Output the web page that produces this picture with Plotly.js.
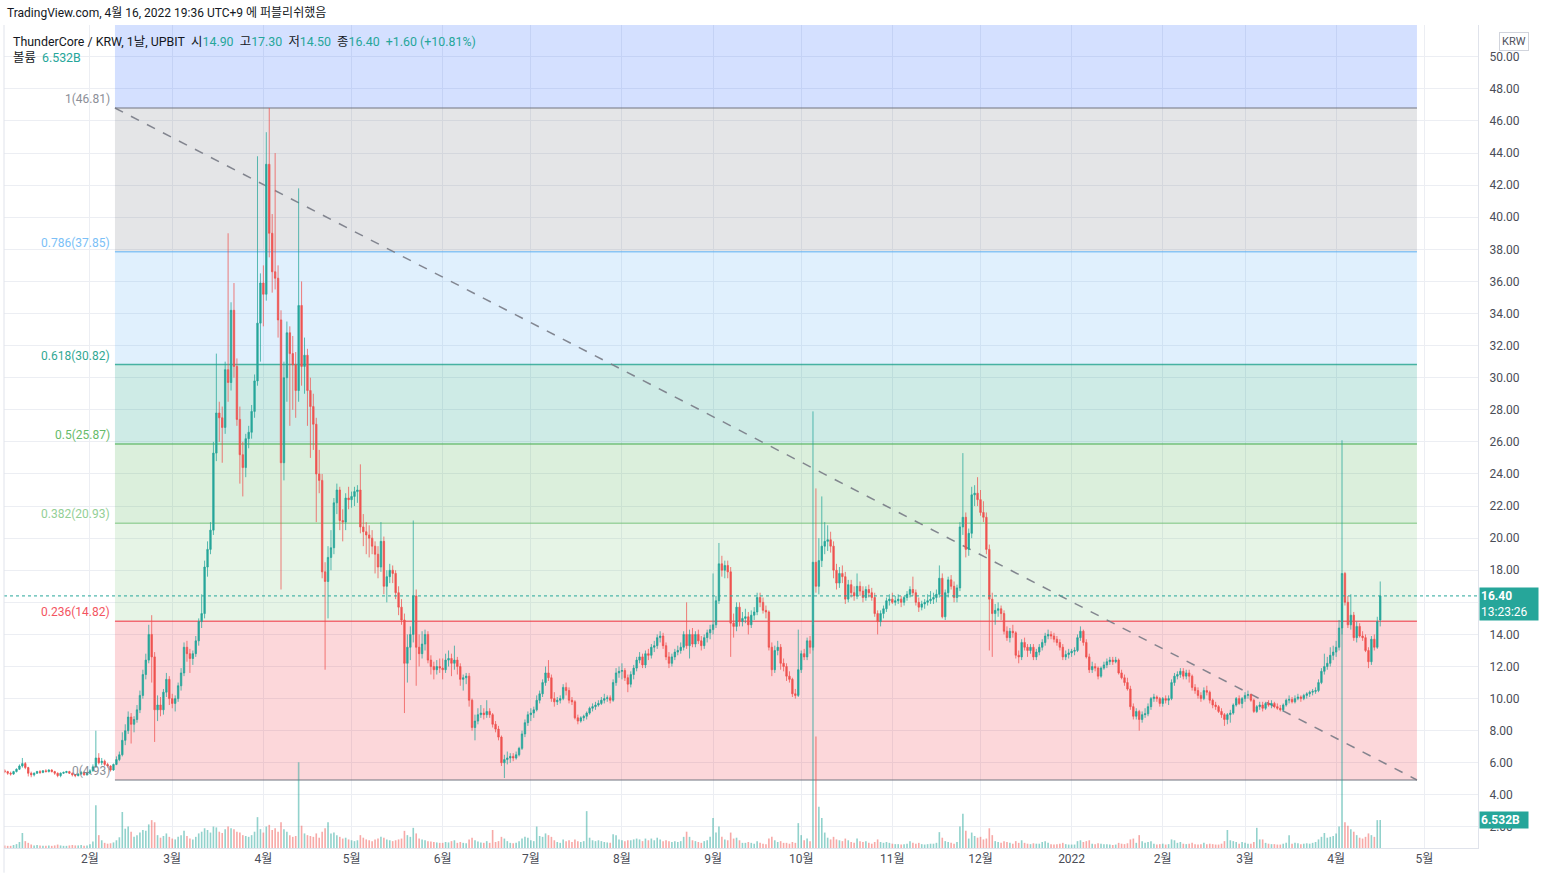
<!DOCTYPE html>
<html>
<head>
<meta charset="utf-8">
<script src="https://cdn.plot.ly/plotly-3.0.1.min.js"></script>
<style>
  html, body { margin: 0; padding: 0; background: #fff; }
  #chart { width: 1542px; height: 873px; }
</style>
</head>
<body>
<div id="chart"></div>
<script>
// ---------------- DATA ----------------
const startDate = '2021-01-03';   // first daily candle shown

const opens = [
// 2021-01 (from Jan 3)
5.50,5.45,5.35,5.30,5.45,5.60,5.80,5.95,5.70,5.35,5.25,5.35,5.45,5.40,5.50,5.45,5.55,5.45,5.35,5.20,5.35,5.40,5.45,5.35,5.25,5.20,5.30,5.40,5.25,
// 2021-02
5.35,5.50,5.75,6.30,6.00,6.10,5.90,5.80,5.55,5.90,6.20,6.50,7.40,8.00,8.85,8.40,8.70,9.30,10.20,11.50,12.40,14.00,12.60,9.30,9.60,9.30,10.40,11.20,
// 2021-03
10.00,9.70,10.00,10.80,11.60,13.20,12.80,12.50,12.80,13.60,14.80,15.30,18.20,19.30,20.50,25.30,27.80,27.50,26.90,30.50,29.70,34.20,30.70,27.40,25.20,24.40,26.20,26.60,27.90,29.80,33.40,
// 2021-04
35.90,35.20,43.30,39.00,36.60,36.20,33.60,24.70,30.00,32.80,31.50,30.80,29.20,34.50,30.70,31.40,29.20,28.20,27.10,24.00,23.60,17.90,17.30,18.80,19.40,22.20,23.00,21.10,21.00,22.50,
// 2021-05
22.40,22.60,22.90,23.00,20.70,20.40,20.20,20.00,19.50,19.00,18.20,19.80,17.00,17.60,18.00,17.80,16.60,15.70,14.90,12.20,13.20,14.00,16.40,13.20,12.80,13.40,14.00,12.40,12.00,11.80,12.00,
// 2021-06
11.90,11.80,12.40,12.50,12.20,12.40,12.00,11.20,11.30,11.40,9.90,8.20,8.60,9.00,9.10,9.00,9.20,9.00,8.40,8.10,7.60,6.00,6.20,6.30,6.40,6.30,6.50,6.90,7.80,8.50,
// 2021-07
9.00,9.10,9.30,9.90,10.30,11.00,11.60,11.30,10.00,9.80,9.90,10.00,10.70,10.50,9.90,9.80,8.80,8.60,8.80,8.90,9.10,9.40,9.50,9.60,9.70,9.90,10.00,10.05,9.90,11.00,11.60,
// 2021-08
11.70,11.75,11.30,10.90,11.50,11.90,12.40,12.60,12.10,12.80,12.70,13.20,13.30,13.80,13.90,13.30,12.60,12.20,12.60,12.90,13.00,13.20,14.00,13.30,14.00,13.40,14.00,13.60,13.30,13.80,14.10,
// 2021-09
14.30,14.60,16.10,18.40,18.00,18.30,17.90,14.70,14.50,15.70,14.80,15.00,15.10,14.60,15.20,15.40,16.30,16.00,15.50,15.40,13.20,11.80,13.00,13.20,12.20,12.00,11.40,11.20,10.30,10.20,
// 2021-10
11.80,12.80,12.60,13.60,13.20,18.50,17.00,18.60,19.50,19.80,19.90,19.50,18.00,17.20,17.80,17.60,16.20,17.10,16.60,16.40,17.00,16.70,16.30,16.80,16.60,16.30,15.30,14.80,15.30,15.60,16.10,
// 2021-11
16.20,16.00,16.10,16.20,16.00,16.30,16.50,16.80,16.60,16.00,15.70,15.90,16.00,16.10,16.20,16.30,16.50,17.50,15.10,16.60,17.40,17.00,16.30,16.90,20.70,21.30,19.30,20.30,22.70,22.80,
// 2021-12
22.40,21.60,21.30,19.30,16.20,15.30,15.50,15.60,15.30,14.20,13.80,14.20,14.10,12.70,12.60,13.50,13.20,13.00,13.20,12.60,12.90,13.20,13.50,13.90,14.00,13.90,13.70,13.50,13.20,12.60,12.75,
// 2022-01
12.85,12.95,13.00,13.80,14.20,13.50,12.60,11.80,12.00,11.90,11.40,11.90,12.10,12.30,12.40,12.30,12.40,11.60,11.30,11.00,10.60,9.50,8.90,9.20,8.70,9.00,9.05,9.50,10.00,10.10,10.00,
// 2022-02
9.70,10.00,9.90,10.00,11.00,11.40,11.50,11.70,11.40,11.60,11.40,10.70,10.50,10.20,10.00,10.50,10.40,9.90,9.60,9.50,9.20,9.00,8.70,9.00,9.10,9.60,10.00,9.70,
// 2022-03
10.00,10.20,10.25,9.90,9.20,9.50,9.60,9.40,9.70,9.60,9.70,9.50,9.40,9.30,9.60,9.90,9.95,9.80,10.00,10.10,10.00,10.20,10.30,10.40,10.45,10.50,11.00,11.70,12.00,12.20,12.70,
// 2022-04 (to Apr 16)
12.90,13.20,14.40,17.80,16.00,14.60,15.20,13.80,14.50,13.90,13.80,13.00,12.30,13.70,13.20,14.90
];

const highs = [
5.60,5.50,5.45,5.50,5.65,5.90,6.30,6.05,5.75,5.45,5.40,5.50,5.55,5.55,5.60,5.60,5.60,5.50,5.40,5.40,5.45,5.50,5.50,5.40,5.30,5.35,5.50,5.45,5.40,
5.60,5.90,8.00,6.60,6.30,6.20,6.00,5.85,5.95,6.40,6.70,7.90,8.40,9.20,9.10,8.90,9.60,10.50,11.80,12.80,14.60,15.20,12.90,10.20,10.10,10.60,11.60,11.40,
10.30,10.20,11.00,11.90,13.50,13.60,13.10,13.00,13.90,15.00,16.50,18.60,19.80,21.00,26.00,31.50,28.50,28.20,31.00,39.00,34.70,35.90,31.20,28.20,26.00,26.50,27.00,28.30,30.20,43.80,36.50,
37.00,45.30,46.81,40.20,44.00,37.00,34.20,31.00,33.50,33.20,32.60,31.60,41.80,36.00,32.50,31.80,30.00,29.00,27.50,25.50,24.00,18.50,19.50,20.50,22.50,23.40,23.20,21.80,22.80,23.20,
22.90,23.20,23.30,24.60,21.50,21.00,20.80,20.50,19.80,19.50,21.00,20.10,18.00,18.40,18.30,18.00,17.00,16.20,15.30,14.00,14.50,21.10,16.80,14.00,14.20,14.30,14.20,12.70,12.30,12.40,12.50,
12.50,12.80,13.00,12.80,13.30,12.60,12.20,11.50,11.60,11.60,10.00,9.00,9.40,9.60,9.40,9.90,9.40,9.10,8.60,8.30,7.70,6.50,6.70,6.60,6.60,6.70,7.00,8.00,8.70,9.20,
9.40,9.50,10.20,10.50,11.20,12.00,12.40,11.50,10.40,10.10,10.20,10.90,11.00,10.70,10.10,9.90,9.00,8.90,9.00,9.20,9.50,9.70,9.80,9.90,10.10,10.30,10.20,10.20,11.20,11.90,12.00,
12.20,11.90,11.50,11.70,12.10,12.60,12.90,12.80,13.00,13.10,13.40,13.60,14.00,14.20,14.10,13.50,12.90,12.80,13.10,13.30,13.50,14.20,16.00,14.30,14.40,14.20,14.30,13.90,14.00,14.30,14.60,
17.80,16.40,19.70,18.90,18.60,18.60,18.20,15.30,16.00,16.00,15.40,15.60,15.40,15.50,15.70,16.60,16.60,16.30,15.80,15.50,13.50,13.30,13.60,13.40,12.50,12.20,11.70,11.30,10.60,14.30,
13.00,13.10,13.80,13.90,27.90,23.10,20.00,22.60,21.00,20.80,20.40,19.80,18.40,18.20,18.30,17.90,17.40,17.40,17.00,17.80,17.30,17.00,17.00,17.10,16.90,16.60,15.50,15.50,15.80,16.30,16.50,
16.60,16.40,16.50,16.40,16.40,16.70,17.00,17.60,16.80,16.30,16.10,16.20,16.50,16.70,16.60,16.80,18.30,17.80,16.80,17.60,17.70,17.30,17.10,21.00,25.30,21.60,20.60,23.20,23.30,23.80,
23.00,22.30,21.60,19.60,16.60,15.90,16.00,15.80,15.50,14.50,14.40,14.60,14.20,13.00,13.70,13.80,13.40,13.40,13.40,13.10,13.40,13.70,14.10,14.30,14.20,14.10,13.90,13.70,13.40,13.00,13.10,
13.10,13.20,14.00,14.50,14.30,13.70,12.80,12.30,12.20,12.00,12.00,12.30,12.50,12.60,12.60,12.60,12.50,11.80,11.50,11.30,10.80,9.70,9.40,9.30,9.20,9.40,9.70,10.10,10.30,10.20,10.10,
10.10,10.20,10.20,11.20,11.60,11.70,11.90,11.90,11.80,11.80,11.50,10.90,10.70,10.40,10.70,10.80,10.50,10.00,9.80,9.60,9.40,9.10,9.10,9.30,9.70,10.10,10.20,10.10,
10.40,10.50,10.30,10.00,9.60,9.80,9.80,9.80,9.90,9.90,9.80,9.70,9.60,9.70,10.00,10.20,10.10,10.20,10.30,10.20,10.30,10.40,10.50,10.60,10.70,11.20,11.90,12.80,12.60,13.20,13.30,
13.60,14.90,26.10,17.90,16.40,16.50,15.40,14.80,14.70,14.20,14.00,13.20,13.90,14.00,15.10,17.30
];

const lows = [
5.35,5.25,5.20,5.25,5.40,5.55,5.70,5.60,5.15,5.10,5.15,5.30,5.30,5.35,5.40,5.40,5.40,5.25,5.10,5.10,5.30,5.35,5.30,5.15,5.10,5.15,5.25,5.20,5.20,
5.30,5.45,5.70,5.90,5.85,5.80,5.70,5.45,5.50,5.85,6.10,6.40,7.10,7.80,7.20,7.90,8.50,9.10,10.00,11.20,12.20,11.00,7.30,8.60,8.90,9.00,10.10,9.60,
9.40,9.20,9.80,10.50,11.40,12.30,11.60,12.10,12.60,13.30,14.40,15.00,17.60,19.00,20.20,24.80,26.00,24.70,26.50,28.50,29.20,30.00,27.00,23.40,22.60,23.80,25.60,26.20,27.50,29.50,31.00,
33.20,34.80,37.50,35.30,35.50,32.50,16.80,23.60,28.50,27.00,28.00,27.50,28.50,29.50,29.00,27.00,25.00,25.50,21.00,22.80,17.50,11.80,15.00,18.00,19.00,21.50,20.50,19.80,20.50,21.80,
21.90,22.00,22.20,20.30,19.50,19.00,18.80,19.00,17.80,17.50,17.90,16.50,16.00,17.20,17.20,16.20,15.20,14.60,9.10,11.00,12.40,13.50,10.80,12.00,12.50,13.00,12.20,11.50,11.20,11.50,11.60,
11.20,11.60,12.00,11.40,11.80,11.50,10.80,10.50,10.90,9.50,8.00,7.40,8.40,8.80,8.70,8.80,8.80,8.20,7.90,7.40,5.80,5.05,5.90,6.00,6.10,6.20,6.40,6.80,7.60,8.30,
8.60,8.80,9.20,9.70,10.10,10.80,11.10,9.80,9.50,9.60,9.70,9.90,10.20,9.70,9.60,8.70,8.40,8.50,8.60,8.70,9.00,9.20,9.30,9.50,9.60,9.70,9.80,9.70,9.80,10.80,11.30,
11.20,11.10,10.40,10.70,11.20,11.70,12.20,11.90,11.90,12.40,12.50,12.90,13.10,13.50,13.10,12.40,11.90,12.00,12.40,12.70,12.80,13.00,13.10,12.50,13.20,13.20,13.40,13.00,13.10,13.50,13.70,
14.00,14.40,15.90,17.60,17.50,17.50,12.60,13.80,14.20,14.50,14.50,14.70,14.00,14.40,14.90,15.20,15.70,15.30,15.00,13.00,11.40,11.60,12.70,11.80,11.70,11.10,11.00,10.10,10.00,10.10,
11.60,12.40,12.40,12.80,13.00,16.60,16.50,18.20,19.00,19.20,19.10,17.50,16.80,16.90,17.20,15.90,16.00,16.30,16.10,16.20,16.40,16.00,16.10,16.30,16.10,15.10,14.00,14.50,15.00,15.40,15.80,
15.90,15.80,15.90,15.70,15.80,16.10,16.30,16.40,15.80,15.40,15.50,15.60,15.80,15.90,15.90,16.00,16.30,15.00,14.90,16.30,16.80,16.00,16.00,16.70,20.20,18.80,18.90,20.00,22.00,22.00,
21.40,21.00,19.00,13.00,12.60,14.60,15.10,14.90,14.00,13.60,13.50,13.80,12.50,12.20,12.40,13.00,12.60,12.80,12.40,12.40,12.70,13.00,13.30,13.70,13.70,13.50,13.30,13.00,12.40,12.40,12.50,
12.60,12.70,12.90,13.60,13.30,12.50,11.60,11.60,11.70,11.20,11.30,11.80,11.90,12.10,12.10,12.20,11.50,11.20,10.80,10.50,9.30,8.70,8.70,8.00,8.50,8.80,8.90,9.30,9.80,9.80,9.50,
9.50,9.70,9.60,9.90,10.80,11.20,11.30,11.20,11.20,11.00,10.50,10.30,10.00,9.80,9.90,10.20,9.70,9.40,9.30,9.10,8.80,8.30,8.40,8.50,9.00,9.50,9.60,9.40,
9.80,10.00,9.80,9.10,9.10,9.30,9.20,9.30,9.50,9.40,9.40,9.30,9.20,9.20,9.50,9.70,9.70,9.70,9.90,9.80,9.90,10.00,10.10,10.20,10.30,10.40,10.90,11.50,11.80,12.00,12.40,
12.60,13.00,14.00,15.80,14.40,14.30,13.60,13.50,13.80,13.60,12.90,11.90,12.10,13.00,13.10,14.50
];

const closes = [
5.45,5.35,5.30,5.45,5.60,5.80,5.95,5.70,5.35,5.25,5.35,5.45,5.40,5.50,5.45,5.55,5.45,5.35,5.20,5.35,5.40,5.45,5.35,5.25,5.20,5.30,5.40,5.25,5.35,
5.50,5.75,6.30,6.00,6.10,5.90,5.80,5.55,5.90,6.20,6.50,7.40,8.00,8.85,8.40,8.70,9.30,10.20,11.50,12.40,14.00,12.60,9.30,9.60,9.30,10.40,11.20,10.00,
9.70,10.00,10.80,11.60,13.20,12.80,12.50,12.80,13.60,14.80,15.30,18.20,19.30,20.50,25.30,27.80,27.50,26.90,30.50,29.70,34.20,30.70,27.40,25.20,24.40,26.20,26.60,27.90,29.80,33.40,35.90,
35.20,43.30,39.00,36.60,36.20,33.60,24.70,30.00,32.80,31.50,30.80,29.20,34.50,30.70,31.40,29.20,28.20,27.10,24.00,23.60,17.90,17.30,18.80,19.40,22.20,23.00,21.10,21.00,22.50,22.40,
22.60,22.90,23.00,20.70,20.40,20.20,20.00,19.50,19.00,18.20,19.80,17.00,17.60,18.00,17.80,16.60,15.70,14.90,12.20,13.20,14.00,16.40,13.20,12.80,13.40,14.00,12.40,12.00,11.80,12.00,11.90,
11.80,12.40,12.50,12.20,12.40,12.00,11.20,11.30,11.40,9.90,8.20,8.60,9.00,9.10,9.00,9.20,9.00,8.40,8.10,7.60,6.00,6.20,6.30,6.40,6.30,6.50,6.90,7.80,8.50,9.00,
9.10,9.30,9.90,10.30,11.00,11.60,11.30,10.00,9.80,9.90,10.00,10.70,10.50,9.90,9.80,8.80,8.60,8.80,8.90,9.10,9.40,9.50,9.60,9.70,9.90,10.00,10.05,9.90,11.00,11.60,11.70,
11.75,11.30,10.90,11.50,11.90,12.40,12.60,12.10,12.80,12.70,13.20,13.30,13.80,13.90,13.30,12.60,12.20,12.60,12.90,13.00,13.20,14.00,13.30,14.00,13.40,14.00,13.60,13.30,13.80,14.10,14.30,
14.60,16.10,18.40,18.00,18.30,17.90,14.70,14.50,15.70,14.80,15.00,15.10,14.60,15.20,15.40,16.30,16.00,15.50,15.40,13.20,11.80,13.00,13.20,12.20,12.00,11.40,11.20,10.30,10.20,11.80,
12.80,12.60,13.60,13.20,18.50,17.00,18.60,19.50,19.80,19.90,19.50,18.00,17.20,17.80,17.60,16.20,17.10,16.60,16.40,17.00,16.70,16.30,16.80,16.60,16.30,15.30,14.80,15.30,15.60,16.10,16.20,
16.00,16.10,16.20,16.00,16.30,16.50,16.80,16.60,16.00,15.70,15.90,16.00,16.10,16.20,16.30,16.50,17.50,15.10,16.60,17.40,17.00,16.30,16.90,20.70,21.30,19.30,20.30,22.70,22.80,22.40,
21.60,21.30,19.30,16.20,15.30,15.50,15.60,15.30,14.20,13.80,14.20,14.10,12.70,12.60,13.50,13.20,13.00,13.20,12.60,12.90,13.20,13.50,13.90,14.00,13.90,13.70,13.50,13.20,12.60,12.75,12.85,
12.95,13.00,13.80,14.20,13.50,12.60,11.80,12.00,11.90,11.40,11.90,12.10,12.30,12.40,12.30,12.40,11.60,11.30,11.00,10.60,9.50,8.90,9.20,8.70,9.00,9.05,9.50,10.00,10.10,10.00,9.70,
10.00,9.90,10.00,11.00,11.40,11.50,11.70,11.40,11.60,11.40,10.70,10.50,10.20,10.00,10.50,10.40,9.90,9.60,9.50,9.20,9.00,8.70,9.00,9.10,9.60,10.00,9.70,10.00,
10.20,10.25,9.90,9.20,9.50,9.60,9.40,9.70,9.60,9.70,9.50,9.40,9.30,9.60,9.90,9.95,9.80,10.00,10.10,10.00,10.20,10.30,10.40,10.45,10.50,11.00,11.70,12.00,12.20,12.70,12.90,
13.20,14.40,17.80,16.00,14.60,15.20,13.80,14.50,13.90,13.80,13.00,12.30,13.70,13.20,14.80,16.40
];

// volume, billions of coins
const volumes = [
0.6,0.5,0.5,0.7,0.9,1.4,3.5,1.6,1.2,0.8,0.6,0.7,0.6,0.5,0.5,0.6,0.5,0.6,0.8,0.6,0.5,0.5,0.6,0.7,0.6,0.6,0.7,0.5,0.6,
0.9,1.5,10.0,3.0,1.8,1.2,1.0,1.1,1.3,1.8,2.5,8.4,4.5,5.0,3.8,2.6,3.0,3.6,4.2,4.0,5.5,6.5,6.0,3.0,2.4,2.8,3.4,2.6,
2.2,2.0,2.6,3.0,4.0,2.8,2.2,2.0,2.6,3.4,3.8,4.6,4.2,3.6,5.0,4.8,3.8,3.5,4.4,5.0,4.6,4.4,3.8,3.6,3.0,2.8,2.6,3.0,3.8,7.2,4.4,
3.6,5.0,5.4,4.2,4.6,3.8,6.0,4.4,3.8,3.0,2.6,2.8,20.0,5.2,3.4,3.0,2.8,2.6,3.4,2.4,3.8,4.6,6.0,3.4,3.6,3.0,2.6,2.2,2.4,2.0,
1.8,1.6,1.8,3.0,2.4,2.0,1.8,1.6,2.0,2.2,2.6,2.4,2.0,1.8,1.6,1.8,2.0,2.2,4.0,3.0,2.6,4.7,3.4,2.2,2.0,1.8,1.6,1.5,1.4,1.3,1.2,
1.2,1.4,1.3,1.6,1.8,1.2,1.4,1.2,1.1,2.0,2.4,1.8,1.5,1.3,1.2,1.6,1.2,4.2,1.4,1.6,2.6,2.2,1.6,1.2,1.1,1.2,1.6,2.2,2.6,2.4,
1.8,1.6,5.0,2.8,2.6,3.4,3.0,2.6,1.8,1.4,1.2,2.0,1.6,1.8,1.4,2.0,1.6,1.4,1.6,8.6,2.4,1.8,1.6,1.8,1.6,1.4,1.3,1.2,3.2,3.0,2.0,
1.8,1.6,1.8,1.8,2.0,2.2,2.0,1.6,2.2,1.8,2.2,1.8,2.4,2.0,1.6,1.8,1.6,1.4,1.6,1.4,1.6,2.6,3.8,2.6,1.8,1.6,1.4,1.2,1.6,1.8,2.6,
7.0,3.6,5.0,2.6,2.0,1.8,3.6,2.2,2.4,1.8,1.2,1.2,1.4,1.2,1.0,1.6,1.2,1.0,0.9,2.2,2.6,1.8,1.4,1.6,1.2,1.2,1.0,1.4,1.2,5.8,
3.0,1.8,2.2,1.6,52.0,26.0,9.6,7.0,3.6,2.4,2.0,2.6,2.0,1.8,1.6,2.2,1.8,1.4,1.2,2.2,1.6,1.4,1.6,1.2,1.0,1.4,2.0,1.4,1.2,1.4,1.2,
1.0,0.9,0.9,0.8,0.9,1.0,1.6,1.2,1.0,1.2,0.9,0.8,0.9,1.0,1.0,1.2,3.7,2.4,1.6,1.4,1.2,1.0,1.4,5.0,8.0,4.0,2.2,3.6,2.8,2.4,
2.6,2.0,2.2,4.6,3.0,1.6,1.4,1.2,1.6,1.4,1.2,1.0,1.6,1.2,1.8,1.2,1.0,0.9,1.1,1.0,1.0,1.4,1.6,1.2,0.9,0.8,0.9,1.0,1.2,0.9,0.8,
0.8,0.8,1.6,1.8,1.4,1.6,1.8,1.0,0.9,1.1,1.0,0.9,0.9,0.8,0.7,0.8,1.2,1.0,0.9,1.1,2.0,2.2,1.2,3.0,1.6,1.2,1.4,1.6,1.0,0.8,0.9,
1.0,0.8,0.9,2.0,1.8,1.2,1.4,1.0,0.9,1.0,1.2,0.9,0.8,0.9,1.2,0.9,1.0,0.9,0.8,0.8,1.0,1.6,4.2,1.8,1.6,1.4,1.0,1.4,
1.2,1.0,1.0,1.4,4.7,2.0,2.0,1.2,1.0,0.9,0.9,0.8,0.8,1.0,1.2,3.0,1.0,1.2,1.1,0.9,1.0,1.1,1.0,1.2,1.4,2.0,2.6,3.5,2.4,2.6,2.8,
3.4,5.0,57.0,6.0,5.2,4.4,3.8,3.0,2.4,2.2,2.6,3.4,3.0,2.6,6.5,6.532
];

// Fibonacci retracement drawn on the chart
const fibStart = '2021-02-09 12:00';
const fibEnd   = '2022-04-28 12:00';
const fibRatios = [0, 0.236, 0.382, 0.5, 0.618, 0.786, 1, 1.618];
const fibValues = [4.93, 14.82, 20.93, 25.87, 30.82, 37.85, 46.81, 72.69];
const fibColors = ['#787b86', '#f23645', '#81c784', '#4caf50', '#089981', '#64b5f6', '#787b86', '#2962ff'];

// price axis ticks (16.00 sits under the last-price badge and is not visible)
const priceTicks = [2,4,6,8,10,12,14,16,18,20,22,24,26,28,30,32,34,36,38,40,42,44,46,48,50];
const hiddenPriceTicks = [16];

// x axis month labels
const monthTicks = ['2021-02-01','2021-03-01','2021-04-01','2021-05-01','2021-06-01','2021-07-01','2021-08-01','2021-09-01',
  '2021-10-01','2021-11-01','2021-12-01','2022-01-01','2022-02-01','2022-03-01','2022-04-01','2022-05-01'];
const monthLabels = ['2월','3월','4월','5월','6월','7월','8월','9월','10월','11월','12월','2022','2월','3월','4월','5월'];

const headerText = 'TradingView.com, 4월 16, 2022 19:36 UTC+9 에 퍼블리쉬했음';
const symbolText = 'ThunderCore / KRW, 1날, UPBIT';
const countdownText = '13:23:26';

// ---------------- BUILD ----------------
const dates = [];
{
  const t0 = Date.parse(startDate + 'T00:00:00Z');
  for (let i = 0; i < closes.length; i++) {
    dates.push(new Date(t0 + i * 86400000).toISOString().slice(0, 10));
  }
}
const UP = '#26a69a', DOWN = '#ef5350';
const last = closes.length - 1;
const volColors = closes.map((c, i) => c >= opens[i] ? 'rgba(38,166,154,0.5)' : 'rgba(239,83,80,0.5)');

const FONT = 'Roboto, "Noto Sans CJK KR", "Noto Sans", sans-serif';
const L = 4, R = 64, T = 25, B = 25, W = 1542, H = 873;
const PW = W - L - R, PH = H - T - B;
const px = v => (v - L) / PW;
const py = v => (H - B - v) / PH;

const traces = [
  {
    type: 'candlestick', x: dates, open: opens, high: highs, low: lows, close: closes,
    xaxis: 'x', yaxis: 'y',
    increasing: { line: { color: 'rgba(38,166,154,0.75)', width: 1 }, fillcolor: UP },
    decreasing: { line: { color: 'rgba(239,83,80,0.75)', width: 1 }, fillcolor: DOWN },
    whiskerwidth: 0, hoverinfo: 'skip'
  },
  {
    type: 'bar', x: dates, y: volumes, xaxis: 'x', yaxis: 'y2',
    marker: { color: volColors, line: { width: 0 } },
    width: 86400000 * 0.55, hoverinfo: 'skip'
  }
];

const shapes = [];
for (let i = 0; i < fibValues.length - 1; i++) {
  const c = fibColors[i + 1];
  shapes.push({
    type: 'rect', layer: 'between', xref: 'x', yref: 'y',
    x0: fibStart, x1: fibEnd, y0: fibValues[i], y1: fibValues[i + 1],
    fillcolor: c, opacity: 0.2, line: { width: 0 }
  });
}
for (let i = 0; i < fibValues.length; i++) {
  shapes.push({
    type: 'line', layer: 'between', xref: 'x', yref: 'y',
    x0: fibStart, x1: fibEnd, y0: fibValues[i], y1: fibValues[i],
    line: { color: fibColors[i], width: 1.5 }, opacity: 0.7
  });
}
shapes.push({
  type: 'line', layer: 'between', xref: 'x', yref: 'y',
  x0: fibStart, x1: fibEnd, y0: fibValues[6], y1: fibValues[0],
  line: { color: '#787b86', width: 1.5, dash: 'dash' }, opacity: 0.9
});
shapes.push({
  type: 'line', layer: 'above', xref: 'paper', yref: 'y',
  x0: 0, x1: 1, y0: closes[last], y1: closes[last],
  line: { color: UP, width: 1, dash: 'dot' }
});
shapes.push({
  type: 'line', layer: 'above', xref: 'paper', yref: 'paper',
  x0: 0, x1: 0, y0: -0.03, y1: 1, line: { color: '#e0e3eb', width: 1 }
});

const annotations = [];
for (let i = 0; i < fibValues.length - 1; i++) {
  annotations.push({
    xref: 'x', yref: 'y', x: fibStart, y: fibValues[i],
    xanchor: 'right', yanchor: 'bottom', xshift: -3, showarrow: false,
    text: fibRatios[i] + '(' + fibValues[i].toFixed(2) + ')',
    font: { family: FONT, size: 12, color: fibColors[i] }, opacity: 0.85
  });
}
const teal = s => '<span style="color:' + UP + '">' + s + '</span>';
const chg = closes[last] - closes[last - 1];
const pct = chg / closes[last - 1] * 100;
const NB = '\u00a0';
annotations.push({
  xref: 'paper', yref: 'paper', x: px(5), y: py(13), xanchor: 'left', yanchor: 'middle',
  showarrow: false, text: headerText, font: { family: FONT, size: 12, color: '#131722' }
});
annotations.push({
  xref: 'paper', yref: 'paper', x: px(11), y: py(41), xanchor: 'left', yanchor: 'middle',
  showarrow: false,
  text: symbolText + NB + NB + '시' + teal(opens[last].toFixed(2)) + NB + NB + '고' + teal(highs[last].toFixed(2)) +
        NB + NB + '저' + teal(lows[last].toFixed(2)) + NB + NB + '종' + teal(closes[last].toFixed(2)) + NB + NB +
        teal((chg >= 0 ? '+' : '') + chg.toFixed(2) + ' (' + (pct >= 0 ? '+' : '') + pct.toFixed(2) + '%)'),
  font: { family: FONT, size: 12.4, color: '#131722' }
});
annotations.push({
  xref: 'paper', yref: 'paper', x: px(11), y: py(58), xanchor: 'left', yanchor: 'middle',
  showarrow: false, text: '볼륨' + NB + NB + teal(volumes[last].toFixed(3) + 'B'),
  font: { family: FONT, size: 12.4, color: '#131722' }
});
annotations.push({
  xref: 'paper', yref: 'paper', x: px(1514), y: py(41.5), xanchor: 'center', yanchor: 'middle',
  showarrow: false, text: 'KRW', font: { family: FONT, size: 11, color: '#50535e' },
  bgcolor: '#ffffff', bordercolor: '#d1d4dc', borderwidth: 1, borderpad: 2
});
annotations.push({
  xref: 'paper', yref: 'y', x: 1, y: closes[last], xanchor: 'left', yanchor: 'top', yshift: 9, xshift: 1,
  showarrow: false, text: '<b>' + closes[last].toFixed(2) + '</b><br>' + countdownText, align: 'left',
  width: 56, bgcolor: UP, borderpad: 1,
  font: { family: FONT, size: 12, color: '#ffffff' }
});
annotations.push({
  xref: 'paper', yref: 'y2', x: 1, y: volumes[last], xanchor: 'left', yanchor: 'middle', xshift: 1,
  showarrow: false, text: '<b>' + volumes[last].toFixed(3) + 'B</b>', align: 'left',
  width: 46, bgcolor: UP, borderpad: 1,
  font: { family: FONT, size: 12, color: '#ffffff' }
});

const layout = {
  width: W, height: H,
  margin: { l: L, r: R, t: T, b: B },
  paper_bgcolor: '#ffffff', plot_bgcolor: '#ffffff',
  showlegend: false,
  font: { family: FONT, size: 12, color: '#131722' },
  xaxis: {
    type: 'date', range: ['2021-01-02 18:00', '2022-05-19 06:30'],
    rangeslider: { visible: false },
    tickmode: 'array', tickvals: monthTicks, ticktext: monthLabels,
    showgrid: true, gridcolor: '#eceef3', gridwidth: 1,
    showline: true, linecolor: '#e0e3eb', ticks: '', zeroline: false,
    tickfont: { family: FONT, size: 12, color: '#4a4d57' }, fixedrange: true
  },
  yaxis: {
    side: 'right', range: [0.69, 51.98],
    tickmode: 'array', tickvals: priceTicks,
    ticktext: priceTicks.map(v => hiddenPriceTicks.includes(v) ? '' : v.toFixed(2)),
    showgrid: true, gridcolor: '#eceef3', gridwidth: 1,
    showline: true, linecolor: '#e0e3eb', zeroline: false,
    ticks: 'outside', ticklen: 8, tickcolor: 'rgba(0,0,0,0)',
    tickfont: { family: FONT, size: 12, color: '#4a4d57' }, fixedrange: true
  },
  yaxis2: {
    overlaying: 'y', side: 'left', range: [0, 192], visible: false,
    showgrid: false, zeroline: false, fixedrange: true
  },
  shapes: shapes,
  annotations: annotations
};

Plotly.newPlot('chart', traces, layout, { displayModeBar: false, staticPlot: true });
</script>
</body>
</html>
